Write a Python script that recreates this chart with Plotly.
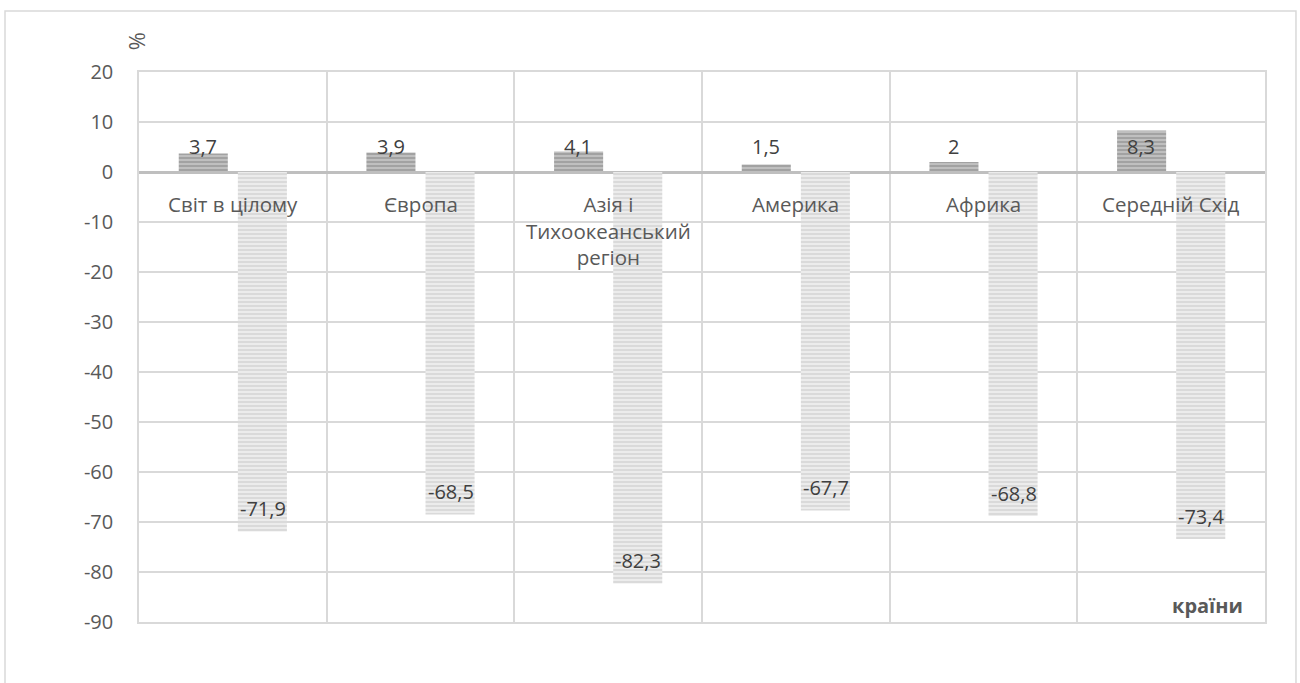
import plotly.graph_objects as go

# Regions and year-on-year change of international tourist arrivals, %
regions = ["Світ в цілому", "Європа", "Азія і<br>Тихоокеанський<br>регіон",
           "Америка", "Африка", "Середній Схід"]
growth_2019 = [3.7, 3.9, 4.1, 1.5, 2.0, 8.3]
growth_2020 = [-71.9, -68.5, -82.3, -67.7, -68.8, -73.4]

y_ticks = list(range(-90, 21, 10))
y_tick_labels = [str(t) for t in y_ticks]

FONT = "Open Sans"
GRID = "#d9d9d9"
TXT = "#595959"


def fmt(v):
    s = ("%.1f" % v).rstrip("0").rstrip(".")
    return s.replace(".", ",")


fig = go.Figure()
fig.add_trace(go.Bar(
    x=regions, y=growth_2019, name="2019",
    marker=dict(color="#a6a6a6", line=dict(width=0),
                pattern=dict(shape="-", fgcolor="#7f7f7f", bgcolor="#bfbfbf",
                             size=4, solidity=0.45)),
))
fig.add_trace(go.Bar(
    x=regions, y=growth_2020, name="2020",
    marker=dict(color="#e6e6e6", line=dict(width=0),
                pattern=dict(shape="-", fgcolor="#c4c4c4", bgcolor="#ececec",
                             size=4, solidity=0.45)),
))

annotations = []
# data labels
for r, v in zip(regions, growth_2019):
    annotations.append(dict(x=r, y=0, xref="x", yref="y", text=fmt(v),
                            showarrow=False, xshift=-30, yshift=25.5,
                            yanchor="middle",
                            font=dict(family=FONT, size=20, color="#404040")))
for r, v in zip(regions, growth_2020):
    annotations.append(dict(x=r, y=v, xref="x", yref="y", text=fmt(v),
                            showarrow=False, xshift=30, yshift=23,
                            yanchor="middle",
                            font=dict(family=FONT, size=20, color="#404040")))
# category labels just below the zero line
for r in regions:
    annotations.append(dict(x=r, y=0, xref="x", yref="y", text=r,
                            showarrow=False, yanchor="top", yshift=-16,
                            align="center",
                            font=dict(family=FONT, size=20.5, color=TXT)))
# axis titles
annotations.append(dict(x=-0.0027, y=1.056, xref="paper", yref="paper",
                        text="%", showarrow=False, textangle=-90,
                        xanchor="center", yanchor="middle",
                        font=dict(family=FONT, size=22, color=TXT)))
annotations.append(dict(x=0.982, y=0.03, xref="paper", yref="paper",
                        text="<b>країни</b>", showarrow=False,
                        xanchor="right", yanchor="middle",
                        font=dict(family=FONT, size=20, color=TXT)))

fig.update_layout(
    width=1300, height=683,
    margin=dict(l=139, r=35, t=72, b=61),
    paper_bgcolor="white", plot_bgcolor="white",
    barmode="group", bargap=0.37, bargroupgap=0.17,
    showlegend=False,
    annotations=annotations,
    shapes=[dict(type="rect", xref="paper", yref="paper",
                 x0=-0.119, x1=1.0275, y0=-0.13, y1=1.111,
                 line=dict(color=GRID, width=1.5), layer="below")],
    font=dict(family=FONT, color=TXT),
)
fig.update_xaxes(
    type="category", tickson="boundaries", showgrid=True, gridcolor=GRID,
    gridwidth=1.5, showticklabels=False, ticks="",
    showline=True, linecolor=GRID, linewidth=1.5, mirror=True,
)
fig.update_yaxes(
    range=[-90, 20], tickvals=y_ticks, ticktext=y_tick_labels,
    showgrid=True, gridcolor=GRID,
    gridwidth=1.5, zeroline=True, zerolinecolor="#bfbfbf", zerolinewidth=3,
    showline=True, linecolor=GRID, linewidth=1.5, mirror=True,
    ticks="", ticklabelstandoff=20,
    tickfont=dict(family=FONT, size=20, color=TXT),
)

fig.write_html("out.html")
